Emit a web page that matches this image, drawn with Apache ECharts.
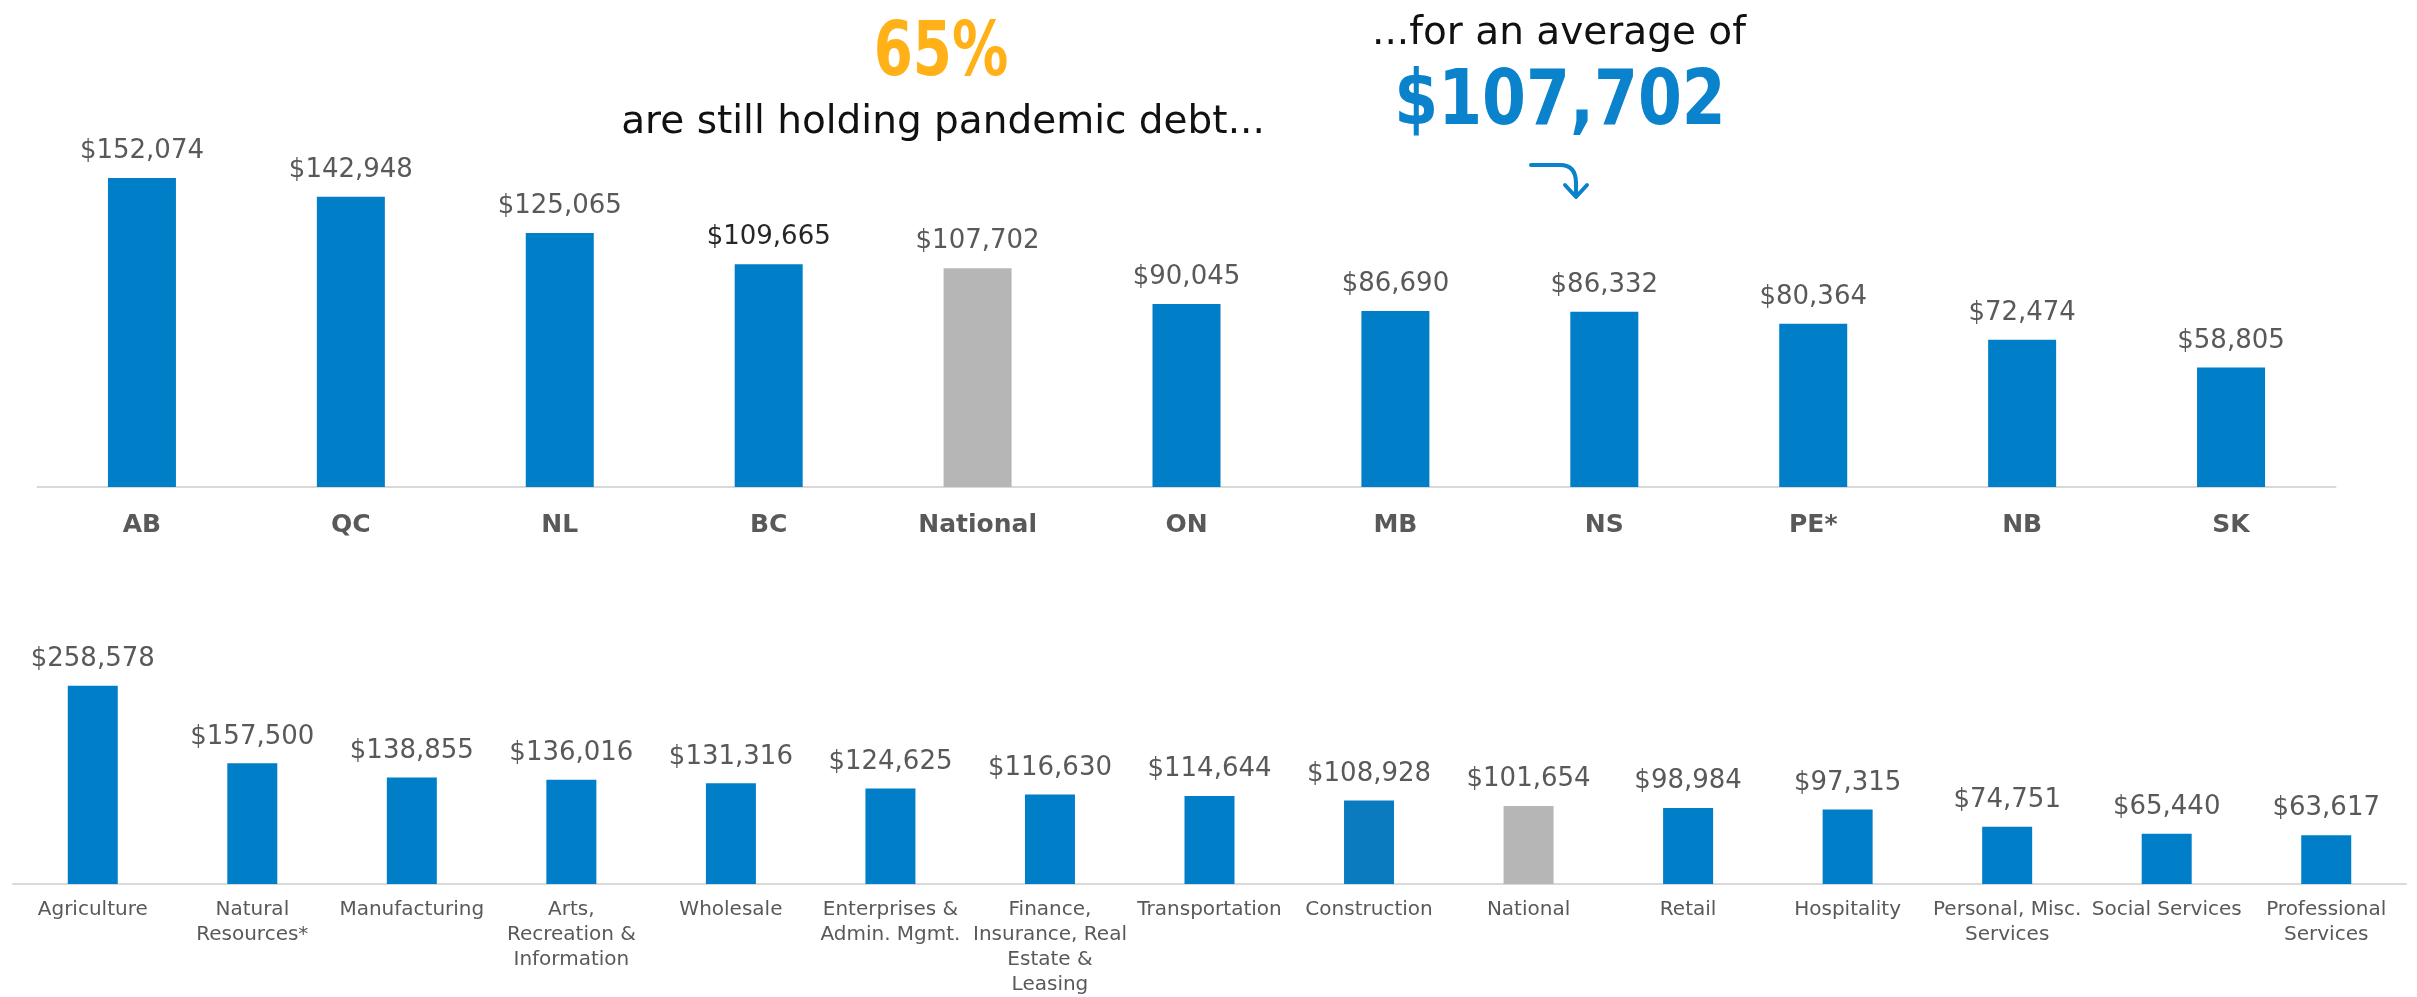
<!DOCTYPE html>
<html>
<head>
<meta charset="utf-8">
<title>Pandemic debt</title>
<script src="https://cdn.jsdelivr.net/npm/echarts/dist/echarts.min.js"></script>
<style>
html, body { margin: 0; padding: 0; background: #ffffff; }
#debtChart { width: 2417px; height: 997px; }
</style>
</head>
<body>
<div id="debtChart"></div>
<script>
// provinces
var provinceNames = ['AB', 'QC', 'NL', 'BC', 'National', 'ON', 'MB', 'NS', 'PE*', 'NB', 'SK'];
var provinceDebt = [152074, 142948, 125065, 109665, 107702, 90045, 86690, 86332, 80364, 72474, 58805];

// industries
var industryNames = ['Agriculture', 'Natural\nResources*', 'Manufacturing', 'Arts,\nRecreation &\nInformation',
	'Wholesale', 'Enterprises &\nAdmin. Mgmt.', 'Finance,\nInsurance, Real\nEstate &\nLeasing', 'Transportation',
	'Construction', 'National', 'Retail', 'Hospitality', 'Personal, Misc.\nServices', 'Social Services',
	'Professional\nServices'];
var industryDebt = [258578, 157500, 138855, 136016, 131316, 124625, 116630, 114644, 108928, 101654, 98984,
	97315, 74751, 65440, 63617];

var headline = { share: '65%', holding: 'are still holding pandemic debt...', average: '...for an average of', amount: '$107,702' };

var blue = '#007fc8';
var gray = '#b5b6b5';
var labelGray = '#595959';
var font = 'DejaVu Sans';

var debtChart = echarts.init(document.getElementById('debtChart'));

function money(v) {
	return '$' + Number(v).toLocaleString('en-US');
}

function barData(names, values) {
	var data = [];
	for (var i = 0; i < values.length; i++) {
		var item = { value: values[i], itemStyle: { color: names[i] == 'National' ? gray : blue } };
		if (names[i] == 'Construction') {
			item.itemStyle.color = '#0b7bc0';
		}
		if (names[i] == 'BC') {
			item.label = { color: '#262626' };
		}
		data.push(item);
	}
	return data;
}

var valueLabel = {
	show: true,
	position: 'top',
	distance: 14,
	fontFamily: font,
	fontSize: 26,
	lineHeight: 25,
	color: labelGray,
	formatter: function (p) { return money(p.value); }
};

var axisLine = { show: true, lineStyle: { color: '#d9d9d9', width: 2 } };

function headText(x, y, text, size, weight, color, sx) {
	return {
		type: 'text', x: x, y: y, scaleX: sx || 1, silent: true,
		style: {
			text: text, fill: color, fontFamily: font, fontSize: size, fontWeight: weight,
			textAlign: 'center', align: 'center', textVerticalAlign: 'middle', verticalAlign: 'middle'
		}
	};
}

var arrowStyle = { stroke: '#0a82cc', lineWidth: 4, fill: null, lineCap: 'round', lineJoin: 'round' };

var option = {
	backgroundColor: '#ffffff',
	animation: false,
	grid: [
		{ left: 37.5, width: 2298, top: 162, height: 325 },
		{ left: 13, width: 2393, top: 654, height: 232 }
	],
	xAxis: [
		{
			type: 'category', gridIndex: 0, data: provinceNames,
			axisLine: axisLine, axisTick: { show: false },
			axisLabel: { interval: 0, margin: 25, fontFamily: font, fontSize: 25, lineHeight: 26, fontWeight: 'bold', color: labelGray }
		},
		{
			type: 'category', gridIndex: 1, data: industryNames,
			axisLine: axisLine, axisTick: { show: false },
			axisLabel: { interval: 0, margin: 13, fontFamily: font, fontSize: 20, lineHeight: 25, color: labelGray, hideOverlap: false }
		}
	],
	yAxis: [
		{ type: 'value', gridIndex: 0, min: 0, max: 160000, show: false, splitLine: { show: false } },
		{ type: 'value', gridIndex: 1, min: 0, max: 300000, show: false, splitLine: { show: false } }
	],
	series: [
		{
			type: 'bar', xAxisIndex: 0, yAxisIndex: 0, barWidth: 68,
			data: barData(provinceNames, provinceDebt), label: valueLabel
		},
		{
			type: 'bar', xAxisIndex: 1, yAxisIndex: 1, barWidth: 50,
			data: barData(industryNames, industryDebt), label: valueLabel
		}
	],
	graphic: [
		headText(941, 56, headline.share, 75, 'bold', '#ffb117', 0.75),
		headText(943, 123, headline.holding, 39, 'normal', '#111111'),
		headText(1559, 34, headline.average, 39, 'normal', '#111111'),
		headText(1560, 104, headline.amount, 77, 'bold', '#0a82cc', 0.82),
		// little arrow under the average
		{ type: 'line', silent: true, shape: { x1: 1531, y1: 165, x2: 1560, y2: 165 }, style: arrowStyle },
		{ type: 'bezierCurve', silent: true, shape: { x1: 1560, y1: 165, cpx1: 1576, cpy1: 165, x2: 1576, y2: 183 }, style: arrowStyle },
		{ type: 'line', silent: true, shape: { x1: 1576, y1: 183, x2: 1576, y2: 196 }, style: arrowStyle },
		{ type: 'polyline', silent: true, shape: { points: [[1565, 185], [1576, 197], [1587, 185]] }, style: arrowStyle }
	]
};

debtChart.setOption(option);
</script>
</body>
</html>
